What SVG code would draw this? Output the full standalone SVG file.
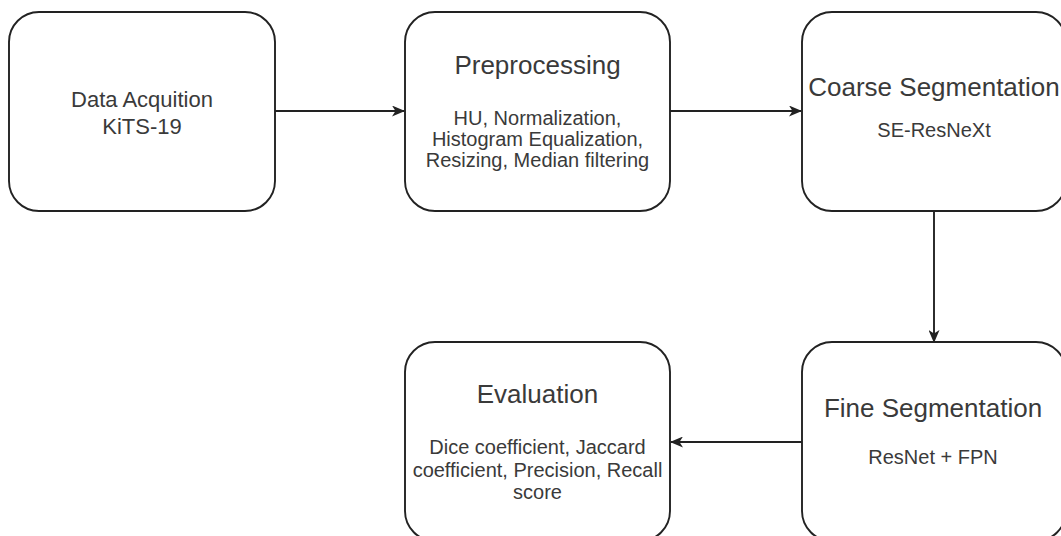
<svg xmlns="http://www.w3.org/2000/svg" width="1061" height="536" viewBox="0 0 1061 536">
<style>
.box{fill:#fff;stroke:#222;stroke-width:1.9}
.t{font-family:"Liberation Sans",Arial,sans-serif;fill:#3a3a3a;text-anchor:middle}
.big{font-size:26px}
.mid{font-size:22px}
.sm{font-size:20px}
.edge{stroke:#222;stroke-width:1.9;fill:none}
</style>
<defs>
<marker id="arr" viewBox="0 0 13 11" refX="12" refY="5.5" markerWidth="13" markerHeight="11" markerUnits="userSpaceOnUse" orient="auto">
<path d="M0,0 L13,5.5 L0,11 L3.5,5.5 Z" fill="#222"/>
</marker>
</defs>
<rect width="1061" height="536" fill="#fff"/>
<g id="connectors">
<line class="edge" x1="275" y1="111" x2="404" y2="111" marker-end="url(#arr)"/>
<line class="edge" x1="670" y1="111" x2="801" y2="111" marker-end="url(#arr)"/>
<line class="edge" x1="934" y1="211" x2="934" y2="342" marker-end="url(#arr)"/>
<line class="edge" x1="802" y1="442" x2="671" y2="442" marker-end="url(#arr)"/>
</g>
<g id="node-data">
<rect class="box" x="9" y="12" width="266" height="199" rx="30" ry="30"/>
<text class="t mid" x="142" y="106.5">Data Acquition</text>
<text class="t mid" x="142" y="133.5">KiTS-19</text>
</g>
<g id="node-preprocessing">
<rect class="box" x="405" y="12" width="265" height="199" rx="30" ry="30"/>
<text class="t big" x="537.5" y="74">Preprocessing</text>
<text class="t sm" x="537.5" y="125">HU, Normalization,</text>
<text class="t sm" x="537.5" y="146">Histogram Equalization,</text>
<text class="t sm" x="537.5" y="167">Resizing, Median filtering</text>
</g>
<g id="node-coarse">
<rect class="box" x="802" y="12" width="264" height="199" rx="30" ry="30"/>
<text class="t big" x="934" y="96">Coarse Segmentation</text>
<text class="t sm" x="934" y="137">SE-ResNeXt</text>
</g>
<g id="node-fine">
<rect class="box" x="802" y="342" width="264" height="199" rx="30" ry="30"/>
<text class="t big" x="933" y="417">Fine Segmentation</text>
<text class="t sm" x="933" y="464">ResNet + FPN</text>
</g>
<g id="node-evaluation">
<rect class="box" x="405" y="342" width="265" height="199" rx="30" ry="30"/>
<text class="t big" x="537.5" y="403">Evaluation</text>
<text class="t sm" x="537.5" y="454">Dice coefficient, Jaccard</text>
<text class="t sm" x="537.5" y="476.5">coefficient, Precision, Recall</text>
<text class="t sm" x="537.5" y="498.5">score</text>
</g>
</svg>
